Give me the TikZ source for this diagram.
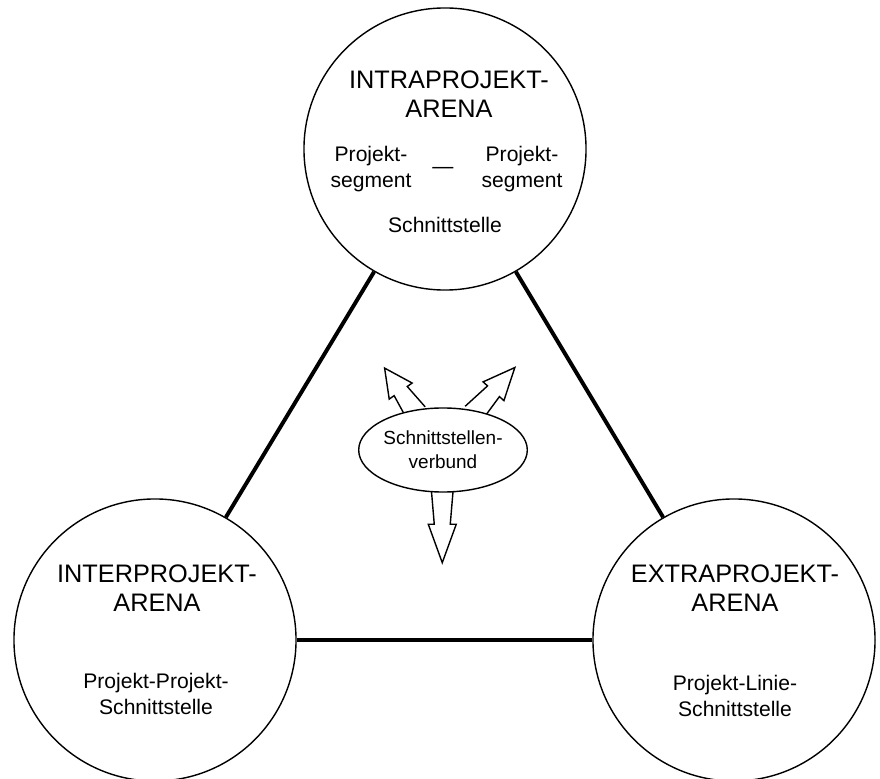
\documentclass[tikz,border=0pt]{standalone}
\usepackage{fontspec}
\setmainfont{Liberation Sans}
\usetikzlibrary{shapes.geometric, backgrounds}

\begin{document}
\begin{tikzpicture}[x=0.025cm, y=0.025cm,
        arena/.style={draw, circle, line width=1pt, minimum size=7.05cm, inner sep=0pt},
        title/.style={align=center, font=\fontsize{18}{21}\selectfont},
        label/.style={align=center, font=\fontsize{15}{18}\selectfont},
        link/.style={line width=2.8pt},
        boltline/.style={line width=1pt, line join=miter},
        boltarrow/.pic={\draw[boltline] (-4,11) -- ({0.45*#1},8) -- ({0.45*#1},14) -- (#1,0)
            -- ({0.45*#1},-14) -- ({0.45*#1},-8) -- (-4,-11);}]
        \useasboundingbox (0,0) rectangle (880,778);

        % the three arenas
        \node[arena] (intra) at (445,629) {};
        \node[arena] (inter) at (155,138) {};
        \node[arena] (extra) at (734,138) {};

        \draw[link] (intra.240) -- (inter.60);
        \draw[link] (intra.300) -- (extra.120);
        \draw[link] (inter.0) -- (extra.180);

        \node[title] (intratitle) at (449,684) {INTRAPROJEKT-\\ARENA};
        \node[label] (segleft) at (371,609) {Projekt-\\segment};
        \node[label] (segright) at (522,609) {Projekt-\\segment};
        \node[label] (segdash) at (443,608) {---};
        \node[label] (intraname) at (445,553) {Schnittstelle};

        \node[title] (intertitle) at (157,190) {INTERPROJEKT-\\ARENA};
        \node[label] (intername) at (156,84) {Projekt-Projekt-\\Schnittstelle};

        \node[title] (extratitle) at (735,190) {EXTRAPROJEKT-\\ARENA};
        \node[label] (extraname) at (735,82) {Projekt-Linie-\\Schnittstelle};

        % centre
        \node[draw, ellipse, line width=1pt, fill=white, minimum width=3.35cm, minimum height=2.1cm,
            inner sep=0pt, align=center, font=\fontsize{13.5}{17}\selectfont] (verbund) at (443,328)
            {Schnittstellen-\\verbund};
        \begin{scope}[on background layer]
            \pic[rotate=125] at (verbund.126) {boltarrow=51};
            \pic[rotate=48] at (verbund.50) {boltarrow=58};
            \pic[rotate=270] at (verbund.269) {boltarrow=70};
        \end{scope}
    \end{tikzpicture}
\end{document}
